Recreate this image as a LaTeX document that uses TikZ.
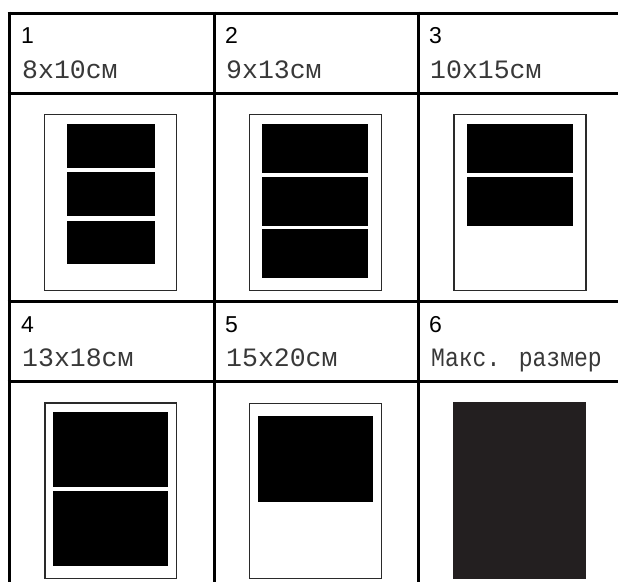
\documentclass[tikz,border=0pt]{standalone}
\usepackage{fontspec}
\usepackage{graphicx}
\setmainfont{Liberation Sans}
\newfontfamily\monof{Liberation Mono}
\definecolor{darkfill}{HTML}{231F20}
\definecolor{framecol}{HTML}{2A2A2A}
\begin{document}
\begin{tikzpicture}[x=1pt,y=-1pt,
  gridline/.style={line width=3pt,black},
  paper/.style={draw=framecol,line width=1.4pt,fill=white},
  photo/.style={fill=black},
  numtxt/.style={anchor=base west,inner sep=0pt,font=\fontsize{23}{27}\selectfont},
  sizetxt/.style={anchor=base west,inner sep=0pt,font=\monof\fontsize{26.5}{30}\selectfont,text=black!78}]
\useasboundingbox (0,0) rectangle (618,582);
% grid
\foreach \y in {13,93,301,381} \draw[gridline] (7.5,\y) -- (618,\y);
\foreach \x in {9,214,418} \draw[gridline] (\x,11.5) -- (\x,582);
% labels
\node[numtxt] (n1) at (21,43) {1};
\node[sizetxt] (s1) at (22,78) {8x10см};
\node[numtxt] (n2) at (225,43) {2};
\node[sizetxt] (s2) at (226,78) {9x13см};
\node[numtxt] (n3) at (429,43) {3};
\node[sizetxt] (s3) at (430,78) {10x15см};
\node[numtxt] (n4) at (21,332) {4};
\node[sizetxt] (s4) at (22,366) {13x18см};
\node[numtxt] (n5) at (225,332) {5};
\node[sizetxt] (s5) at (226,366) {15x20см};
\node[numtxt] (n6) at (429,332) {6};
\node[sizetxt] (s6) at (431,366) {\scalebox{0.87}[1]{Макс. размер}};
% cell 1
\draw[paper] (44.5,114.5) rectangle (176.5,290.5);
\fill[photo] (66.7,124) rectangle (155,167.7);
\fill[photo] (66.7,171.7) rectangle (155,215.7);
\fill[photo] (66.7,221) rectangle (155,264.3);
% cell 2
\draw[paper] (249.5,114.5) rectangle (381.5,290.5);
\fill[photo] (262,124) rectangle (367.7,172.7);
\fill[photo] (262,177) rectangle (367.7,225.7);
\fill[photo] (262,229) rectangle (367.7,277.7);
% cell 3
\draw[paper] (454,114.5) rectangle (586,290.5);
\fill[photo] (466.7,124) rectangle (573,172.7);
\fill[photo] (466.7,177) rectangle (573,225.7);
% cell 4
\draw[paper] (45,403) rectangle (176.5,578.5);
\fill[photo] (52.7,412) rectangle (168.3,486.7);
\fill[photo] (52.7,491) rectangle (168.3,566);
% cell 5
\draw[paper] (249.5,403.3) rectangle (381.5,578.5);
\fill[photo] (258,416) rectangle (373,501.7);
% cell 6
\fill[darkfill] (453.3,402.3) rectangle (586,578.7);
\end{tikzpicture}
\end{document}
